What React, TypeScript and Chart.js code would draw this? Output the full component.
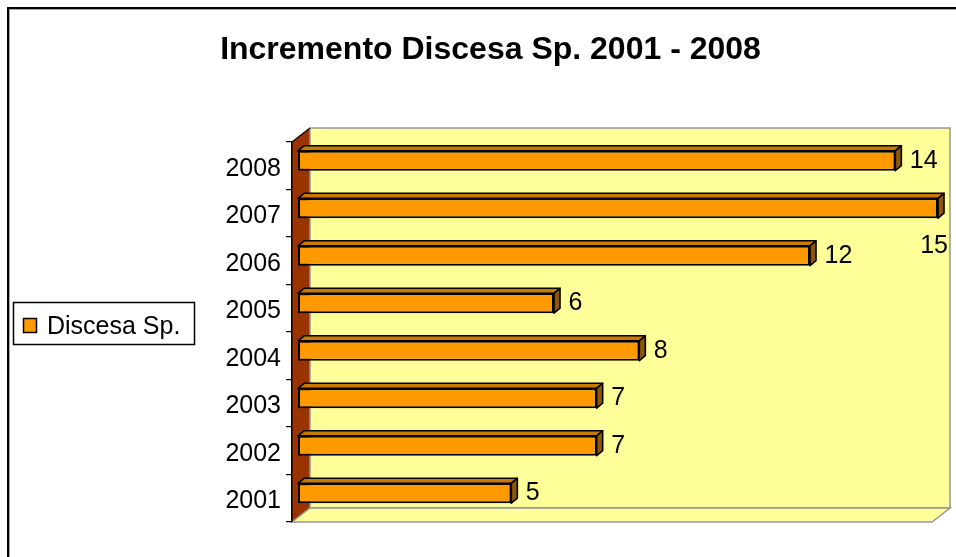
import React, { useEffect, useRef } from 'react';
import { Chart, registerables } from 'chart.js';

Chart.register(...registerables);

// ---------- data ----------
const TITLE = 'Incremento Discesa Sp. 2001 - 2008';
const SERIES_LABEL = 'Discesa Sp.';
const YEARS = ['2001', '2002', '2003', '2004', '2005', '2006', '2007', '2008'];
const VALUES = [5, 7, 7, 8, 6, 12, 15, 14];
const X_MIN = 0;
const X_MAX = 15;

// ---------- style ----------
const FONT = '"Liberation Sans", Arial, Helvetica, sans-serif';
const BAR_FRONT = '#FF9900';
const BAR_TOP = '#C97800';
const BAR_SIDE = '#8F5800';
const WALL = '#FFFF99';
const SIDE_WALL = '#993300';
const EDGE = '#969696';
const DEPTH = { x: 18, y: -14 };
const BAR_DEPTH = { x: 6, y: -5 };

const excel3d = {
  id: 'excel3d',
  beforeDraw(chart: any) {
    const { ctx, chartArea } = chart;
    const { top: T, bottom: B } = chartArea;
    const xs = chart.scales.x;
    const x0 = xs.getPixelForValue(X_MIN);
    const x1 = xs.getPixelForValue(X_MAX);
    const dx = DEPTH.x, dy = DEPTH.y;
    ctx.save();
    // outer chart border (only top/left visible)
    ctx.fillStyle = '#000';
    ctx.fillRect(7, 7, 2, chart.height);
    ctx.fillRect(7, 7, chart.width, 2);
    ctx.fillStyle = '#a8a8a8';
    ctx.fillRect(9, 9, 1, chart.height);
    ctx.fillRect(9, 9, chart.width, 1);

    // left side wall
    ctx.fillStyle = SIDE_WALL;
    ctx.beginPath();
    ctx.moveTo(x0, T);
    ctx.lineTo(x0 + dx, T + dy);
    ctx.lineTo(x0 + dx, B + dy);
    ctx.lineTo(x0, B);
    ctx.closePath();
    ctx.fill();

    // back wall
    ctx.fillStyle = WALL;
    ctx.strokeStyle = EDGE;
    ctx.lineWidth = 1.5;
    ctx.beginPath();
    ctx.rect(x0 + dx, T + dy, x1 - x0, B - T);
    ctx.fill();
    ctx.stroke();

    // floor
    ctx.beginPath();
    ctx.moveTo(x0, B);
    ctx.lineTo(x1, B);
    ctx.lineTo(x1 + dx, B + dy);
    ctx.lineTo(x0 + dx, B + dy);
    ctx.closePath();
    ctx.fill();
    ctx.stroke();

    // top diagonal of side wall
    ctx.strokeStyle = '#000';
    ctx.lineWidth = 1.2;
    ctx.beginPath();
    ctx.moveTo(x0, T);
    ctx.lineTo(x0 + dx, T + dy);
    ctx.stroke();
    ctx.restore();
  },
  beforeDatasetsDraw(chart: any) {
    const { ctx } = chart;
    const meta = chart.getDatasetMeta(0);
    const dx = BAR_DEPTH.x, dy = BAR_DEPTH.y;
    ctx.save();
    ctx.lineWidth = 1.6;
    ctx.strokeStyle = '#000';
    ctx.lineJoin = 'round';
    meta.data.forEach((el: any) => {
      const p = el.getProps(['x', 'y', 'base', 'height'], true);
      const l = Math.min(p.base, p.x) + dx;
      const r = Math.max(p.base, p.x) + dx;
      const t = p.y - p.height / 2 + dy;
      const b = p.y + p.height / 2 + dy;
      // top face
      ctx.fillStyle = BAR_TOP;
      ctx.beginPath();
      ctx.moveTo(l, t);
      ctx.lineTo(r, t);
      ctx.lineTo(r + dx, t + dy);
      ctx.lineTo(l + dx, t + dy);
      ctx.closePath();
      ctx.fill();
      ctx.stroke();
      // right face
      ctx.fillStyle = BAR_SIDE;
      ctx.beginPath();
      ctx.moveTo(r, t);
      ctx.lineTo(r + dx, t + dy);
      ctx.lineTo(r + dx, b + dy);
      ctx.lineTo(r, b);
      ctx.closePath();
      ctx.fill();
      ctx.stroke();
    });
    ctx.restore();
    ctx.save();
    ctx.translate(dx, dy);
  },
  afterDatasetsDraw(chart: any) {
    chart.ctx.restore();
  },
  afterDraw(chart: any) {
    const { ctx } = chart;
    const meta = chart.getDatasetMeta(0);
    const data = chart.data.datasets[0].data;
    ctx.save();
    // value labels
    ctx.fillStyle = '#000';
    ctx.font = `25px ${FONT}`;
    ctx.textBaseline = 'alphabetic';
    meta.data.forEach((el: any, i: number) => {
      const p = el.getProps(['x', 'y', 'base', 'height'], true);
      const right3d = Math.max(p.base, p.x) + BAR_DEPTH.x * 2;
      const cy = p.y + BAR_DEPTH.y;
      const txt = String(data[i]);
      const w = ctx.measureText(txt).width;
      const x = right3d + 8.5;
      if (x + w > chart.width) {
        ctx.textAlign = 'right';
        ctx.fillText(txt, right3d + 4, cy + 44.75);
      } else {
        ctx.textAlign = 'left';
        ctx.fillText(txt, x, cy + 7);
      }
    });

    // title
    ctx.textAlign = 'center';
    ctx.font = `bold 32px ${FONT}`;
    ctx.fillText(TITLE, 490.5, 59);

    // legend
    const ds = chart.data.datasets[0];
    ctx.lineWidth = 1.5;
    ctx.strokeStyle = '#000';
    ctx.strokeRect(13.5, 302.5, 181, 42);
    ctx.fillStyle = ds.backgroundColor;
    ctx.fillRect(23.5, 318.5, 13, 14);
    ctx.strokeRect(23.5, 318.5, 13, 14);
    ctx.fillStyle = '#000';
    ctx.textAlign = 'left';
    ctx.font = `25px ${FONT}`;
    ctx.fillText(ds.label, 47, 334);
    ctx.restore();
  },
};

export default function App() {
  const ref = useRef<HTMLCanvasElement | null>(null);
  useEffect(() => {
    if (!ref.current) return;
    const chart = new Chart(ref.current, {
      type: 'bar',
      data: {
        labels: YEARS,
        datasets: [
          {
            label: SERIES_LABEL,
            data: VALUES,
            backgroundColor: BAR_FRONT,
            borderColor: '#000',
            borderWidth: 2,
            borderSkipped: false,
            barPercentage: 0.42,
            categoryPercentage: 1,
            clip: false,
          } as any,
        ],
      },
      plugins: [excel3d],
      options: {
        indexAxis: 'y',
        responsive: false,
        animation: false,
        devicePixelRatio: 1,
        layout: { padding: { left: 0, top: 142, right: 24, bottom: 35 } },
        plugins: {
          legend: { display: false },
          title: { display: false },
          tooltip: { enabled: false },
        },
        scales: {
          x: { display: false, min: X_MIN, max: X_MAX },
          y: {
            reverse: true,
            afterFit: (s: any) => {
              s.width = 292;
            },
            grid: {
              drawOnChartArea: false,
              drawTicks: true,
              tickLength: 6,
              color: '#000',
              lineWidth: 1.2,
              offset: true,
            },
            border: { display: true, color: '#000', width: 1.5 },
            ticks: {
              color: '#000',
              font: { family: FONT, size: 25 },
              padding: 5,
              labelOffset: 3,
            },
          },
        },
      } as any,
    });
    return () => chart.destroy();
  }, []);
  return (
    <div style={{ position: 'absolute', left: 0, top: 0, width: 956, height: 557 }}>
      <canvas ref={ref} width={956} height={557} style={{ display: 'block' }} />
    </div>
  );
}
